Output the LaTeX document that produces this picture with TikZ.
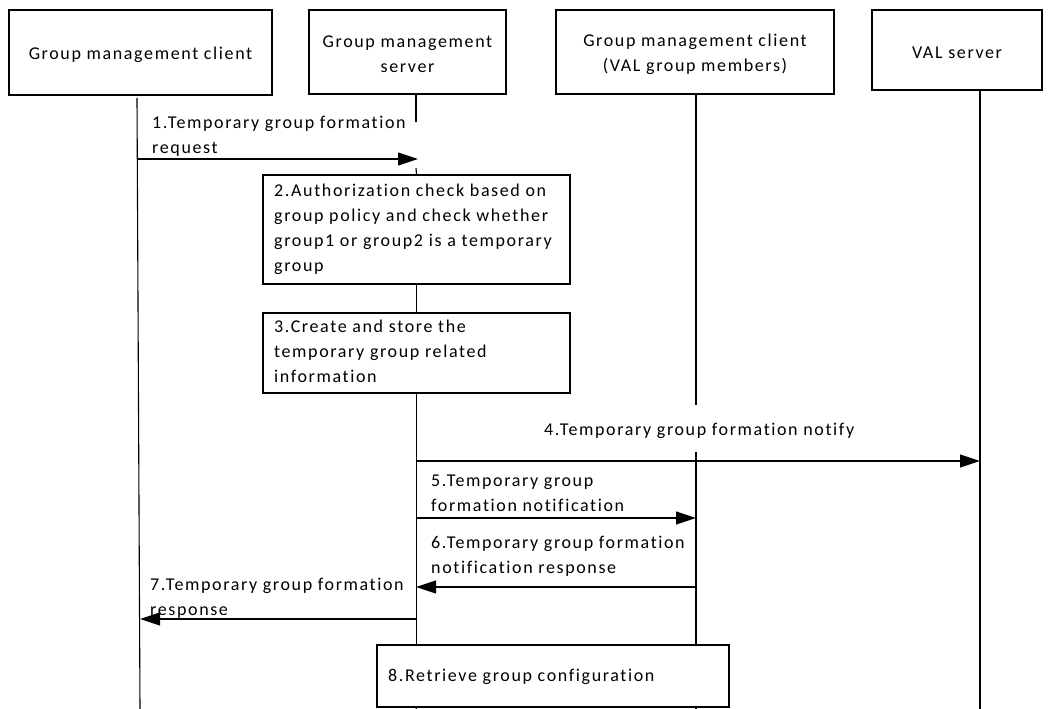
\documentclass[tikz,border=0pt]{standalone}
\usepackage{fontspec}
\setmainfont[LetterSpace=9,Ligatures=NoCommon]{Carlito}
\usetikzlibrary{arrows.meta}
\begin{document}
\begin{tikzpicture}[x=1pt,y=-1pt,
  every node/.style={font=\fontsize{18}{25}\selectfont},
  entity/.style={draw,line width=1.1pt,inner sep=0},
  etext/.style={align=center,inner sep=0,yshift=-2.5pt},
  stepbox/.style={draw,line width=1.1pt,inner sep=0},
  txt/.style={anchor=north west,inner sep=0,align=left},
  life/.style={line width=1.1pt},
  msg/.style={line width=1.1pt,-{Triangle[length=20pt,width=13pt]}}]
\useasboundingbox (0,0) rectangle (1050,709);
% entity boxes
\node[entity,minimum width=263pt,minimum height=85pt,label={[etext]center:Group management client}] (A) at (140.5,52.5) {};
\node[entity,minimum width=197pt,minimum height=84pt,label={[etext]center:Group management\\server}] (B) at (407.5,52) {};
\node[entity,minimum width=278pt,minimum height=84pt,label={[etext]center:Group management client\\(VAL group members)}] (C) at (695,52) {};
\node[entity,minimum width=170pt,minimum height=80pt,label={[etext]center:VAL server}] (D) at (957,50) {};
% step boxes
\node[stepbox,minimum width=307pt,minimum height=109pt] (S2) at (416.5,229.5) {};
\node[txt] at (274,184) {2.Authorization check based on\\group policy and check whether\\group1 or group2 is a temporary\\group};
\node[stepbox,minimum width=307pt,minimum height=80pt] (S3) at (416.5,353) {};
\node[txt] at (274,320) {3.Create and store the\\temporary group related\\information};
\node[stepbox,minimum width=352pt,minimum height=62pt] (S8) at (553,676) {};
\node[txt] at (388,669) {8.Retrieve group configuration};
% lifeline coordinates
\coordinate (Atop) at (137,98);
\coordinate (Abot) at (140,709);
\coordinate (B1) at (416,122);
\coordinate (Bm1) at (416,168);
\coordinate (B8) at (416,709);
\coordinate (C4) at (696,405);
\coordinate (C4b) at (696,452);
\coordinate (C9) at (696,709);
\coordinate (Dbot) at (980,709);
% lifelines
\draw[life] (Atop) -- (Abot);
\draw[life] (B.south -| B1) -- (B1);
\draw[life] (Bm1) -- (S2.north);
\draw[life] (S2.south) -- (S3.north);
\draw[life] (S3.south) -- (S8.north -| S3.south);
\draw[life] (S8.south -| S3.south) -- (B8);
\draw[life] (C.south -| C4) -- (C4);
\draw[life] (C4b) -- (S8.north -| C4b);
\draw[life] (S8.south -| C4b) -- (C9);
\draw[life] (D.south -| Dbot) -- (Dbot);
% messages
\coordinate (m1s) at (137,159); \coordinate (m1e) at (418,159);
\draw[msg] (m1s) -- (m1e);
\node[txt] at (152,116) {1.Temporary group formation\\request};
\coordinate (m4s) at (416,461); \coordinate (m4e) at (980,461);
\draw[msg] (m4s) -- (m4e);
\node[txt] at (544,423) {4.Temporary group formation notify};
\coordinate (m5s) at (416,518); \coordinate (m5e) at (696,518);
\draw[msg] (m5s) -- (m5e);
\node[txt] at (431,475) {5.Temporary group\\formation notification};
\coordinate (m6s) at (696,587); \coordinate (m6e) at (416,587);
\draw[msg] (m6s) -- (m6e);
\node[txt] at (431,536) {6.Temporary group formation\\notification response};
\coordinate (m7s) at (416,619); \coordinate (m7e) at (140,619);
\draw[msg] (m7s) -- (m7e);
\node[txt] at (150,578) {7.Temporary group formation\\response};
\end{tikzpicture}
\end{document}
